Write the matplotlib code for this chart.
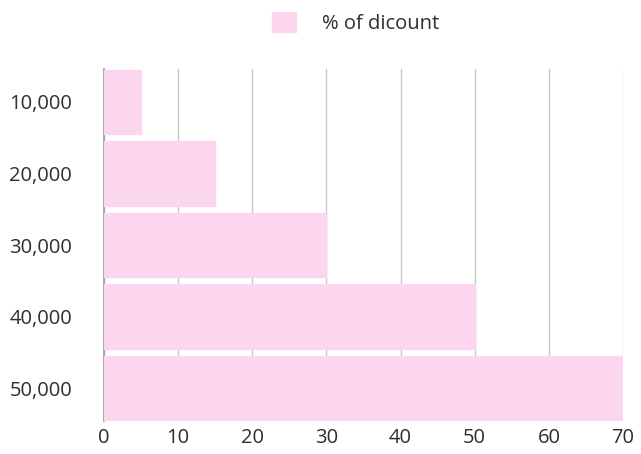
import matplotlib.pyplot as plt
from matplotlib.patches import Patch

plt.rcParams['font.family'] = ['Open Sans', 'DejaVu Sans']

# purchase amount and discount given
amounts = ['10,000', '20,000', '30,000', '40,000', '50,000']
discount = [5, 15, 30, 50, 70]
x_ticks = [0, 10, 20, 30, 40, 50, 60, 70]

pink = '#fcd6ee'
text_col = '#2e2e2e'

fig = plt.figure(figsize=(6.41, 4.54), dpi=100)
ax = fig.add_axes([0.1622, 0.0727, 0.8098, 0.7753])

ax.barh(range(len(amounts)), discount, height=0.9, color=pink,
        edgecolor=pink, linewidth=1, joinstyle='round', zorder=3)

ax.set_ylim(len(amounts) - 0.54, -0.46)
ax.set_xlim(0, 70)
ax.set_yticks(range(len(amounts)))
ax.set_yticklabels(amounts)
ax.set_xticks(x_ticks)

ax.grid(axis='x', color='#c8c8c8', linewidth=1.0, zorder=0)
ax.set_axisbelow(True)
for side in ['top', 'right', 'bottom']:
    ax.spines[side].set_visible(False)
ax.spines['left'].set_color('#999999')
ax.spines['left'].set_linewidth(1.2)
ax.tick_params(length=0, labelsize=14.5, colors=text_col)
ax.tick_params(axis='y', pad=23)
ax.tick_params(axis='x', pad=5)

fig.legend(handles=[Patch(color=pink, label='% of dicount')],
           loc='center', bbox_to_anchor=(0.555, 0.95), frameon=False,
           fontsize=14.5, handlelength=1.2, handleheight=1.2,
           handletextpad=1.3, labelcolor=text_col)

fig.savefig('out.png', dpi=100)
